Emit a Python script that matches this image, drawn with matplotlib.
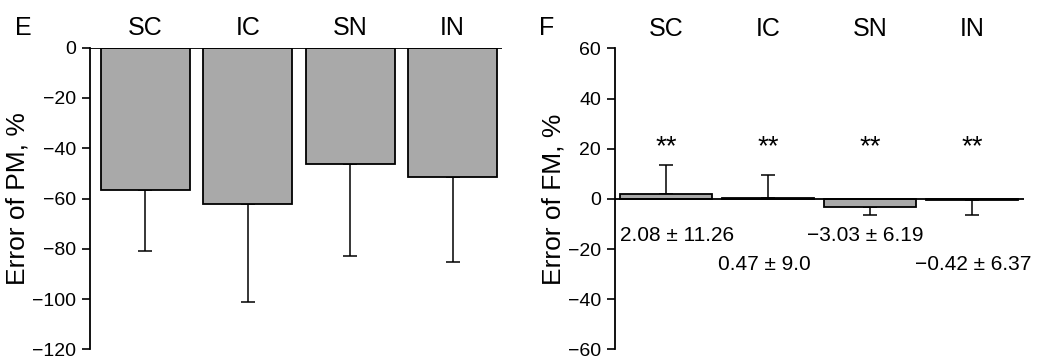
import matplotlib
matplotlib.use("Agg")
import matplotlib.pyplot as plt
import matplotlib.transforms as mtransforms

# -----------------------------
# Data
# -----------------------------
groups = ["SC", "IC", "SN", "IN"]

# panel E: error of PM, %
pm_mean = [-56.7, -62.1, -46.2, -51.4]
pm_err = [24.3, 38.9, 36.8, 33.8]

# panel F: error of FM, %
fm_mean = [2.08, 0.47, -3.03, -0.42]
fm_err = [11.6, 9.1, 3.5, 6.1]
fm_text = ["2.08 \u00b1 11.26", "0.47 \u00b1 9.0", "\u22123.03 \u00b1 6.19", "\u22120.42 \u00b1 6.37"]
fm_text_y = [-14.5, -26.0, -14.5, -26.0]
fm_text_dx = [0.11, -0.03, -0.05, 0.01]
star_y = 20.5

plt.rcParams["font.family"] = ["Liberation Sans", "DejaVu Sans"]

BAR_COLOR = "#a9a9a9"
TICK_FS = 14
NOTE_FS = 15
CAT_FS = 18
LABEL_FS = 19

fig = plt.figure(figsize=(10.37, 3.61), dpi=100)
ax_e = fig.add_axes([0.0868, 0.032, 0.397, 0.836])
ax_f = fig.add_axes([0.593, 0.032, 0.3944, 0.834])


def style_axis(ax):
    for side in ["top", "right", "bottom"]:
        ax.spines[side].set_visible(False)
    ax.spines["left"].set_linewidth(1.3)
    ax.set_xticks([])
    ax.tick_params(axis="y", direction="out", length=6, width=1.2,
                   pad=4, labelsize=TICK_FS)
    ax.axhline(0, color="black", lw=1.3, zorder=3)


def one_sided(means, errs):
    lower = [e if m < 0 else 0 for m, e in zip(means, errs)]
    upper = [e if m >= 0 else 0 for m, e in zip(means, errs)]
    return [lower, upper]


x = list(range(len(groups)))

# -----------------------------
# Panel E
# -----------------------------
ax_e.bar(x, pm_mean, width=0.87, color=BAR_COLOR, edgecolor="black",
         linewidth=1.3, zorder=2)
ax_e.errorbar(x, pm_mean, yerr=one_sided(pm_mean, pm_err), fmt="none",
              ecolor="black", elinewidth=1.1, capsize=5, capthick=1.1, zorder=1)
ax_e.set_xlim(-0.54, 3.48)
ax_e.set_ylim(-120, 0)
ax_e.set_yticks(range(-120, 1, 20))
ax_e.set_ylabel("Error of PM, %", fontsize=LABEL_FS, labelpad=2)
style_axis(ax_e)

# -----------------------------
# Panel F
# -----------------------------
ax_f.bar(x, fm_mean, width=0.9, color=BAR_COLOR, edgecolor="black",
         linewidth=1.3, zorder=2)
ax_f.errorbar(x, fm_mean, yerr=one_sided(fm_mean, fm_err), fmt="none",
              ecolor="black", elinewidth=1.1, capsize=5, capthick=1.1, zorder=1)
ax_f.set_xlim(-0.5, 3.51)
ax_f.set_ylim(-60, 60)
ax_f.set_yticks(range(-60, 61, 20))
ax_f.set_ylabel("Error of FM, %", fontsize=LABEL_FS, labelpad=2)
style_axis(ax_f)

for xi, txt, ty, dx in zip(x, fm_text, fm_text_y, fm_text_dx):
    ax_f.text(xi + dx, ty, txt, ha="center", va="center", fontsize=NOTE_FS)
    ax_f.text(xi, star_y, "**", ha="center", va="center", fontsize=20)

# category labels above each panel
for ax in (ax_e, ax_f):
    trans = mtransforms.blended_transform_factory(ax.transData, ax.transAxes)
    for xi, g in zip(x, groups):
        ax.text(xi, 1.065, g, transform=trans, ha="center", va="center",
                fontsize=CAT_FS)

fig.text(0.022, 0.922, "E", fontsize=CAT_FS, ha="center", va="center")
fig.text(0.527, 0.922, "F", fontsize=CAT_FS, ha="center", va="center")

fig.savefig("out.png", dpi=100)
plt.close(fig)
